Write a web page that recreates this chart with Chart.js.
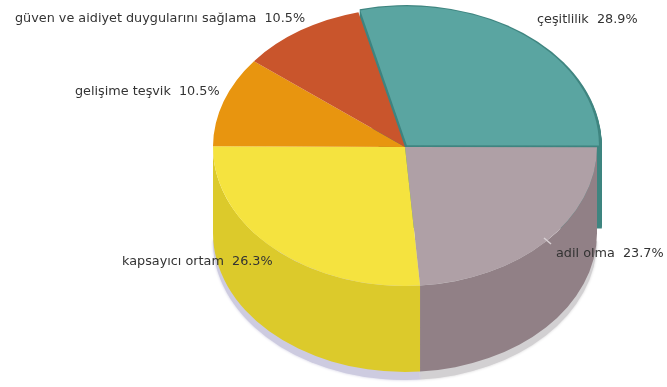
<!DOCTYPE html>
<html>
<head>
<meta charset="utf-8">
<style>
    html, body { margin: 0; padding: 0; background: #fff; }
    #chart { display: block; }
</style>
<script src="https://cdn.jsdelivr.net/npm/chart.js@4"></script>
</head>
<body>
<canvas id="chart" width="667" height="387"></canvas>
<script>
const categories = ['çeşitlilik', 'adil olma', 'kapsayıcı ortam', 'gelişime teşvik', 'güven ve aidiyet duygularını sağlama'];
const percentages = [28.9, 23.7, 26.3, 10.5, 10.5];

const topColors = ['#5aa5a1', '#afa0a6', '#f5e33f', '#e8950f', '#c9552c'];
const sideColors = ['#3f8580', '#918086', '#dcca2b', '#b87508', '#9c4020'];
const shadowColors = [null, '#d2d0d2', '#cdcbe0', null, null];
const sliceOffsets = [12, 0, 0, 0, 0];

// where each label starts, left edge and text middle
const labelSpots = [[537, 20], [556, 254], [122, 262], [75, 92], [15, 19]];

// pie sits flattened, its top face centred here
const pieCenter = { x: 405, y: 147 };
const tilt = 139 / 192;
const depth = 86;
const pulledDepth = 83;

function tiltContext(ctx, arc, drop) {
    ctx.translate(pieCenter.x, pieCenter.y + drop);
    ctx.scale(1, tilt);
    ctx.translate(-arc.x, -arc.y);
}

function sliceShape(ctx, arc) {
    const mid = (arc.startAngle + arc.endAngle) / 2;
    const off = (arc.options.offset || 0) / 4;
    const x = arc.x + Math.cos(mid) * off;
    const y = arc.y + Math.sin(mid) * off;
    ctx.beginPath();
    ctx.moveTo(x, y);
    ctx.arc(x, y, arc.outerRadius + off, arc.startAngle, arc.endAngle);
    ctx.closePath();
}

// outer wall of a slice, only the part facing the viewer
function wallShape(ctx, arc) {
    const from = Math.max(arc.startAngle, 0);
    const to = Math.min(arc.endAngle, Math.PI);
    if (to <= from) return false;
    const rx = arc.outerRadius;
    const ry = arc.outerRadius * tilt;
    ctx.beginPath();
    ctx.ellipse(pieCenter.x, pieCenter.y, rx, ry, 0, from, to);
    ctx.ellipse(pieCenter.x, pieCenter.y + depth, rx, ry, 0, to, from, true);
    ctx.closePath();
    return true;
}

const pie3d = {
    id: 'pie3d',
    beforeDatasetDraw(chart, args) {
        const ctx = chart.ctx;
        const arcs = args.meta.data;

        // soft shadow on the floor
        arcs.forEach((arc, i) => {
            if (!shadowColors[i]) return;
            ctx.save();
            tiltContext(ctx, arc, depth + 8);
            sliceShape(ctx, arc);
            ctx.fillStyle = shadowColors[i];
            ctx.shadowColor = shadowColors[i];
            ctx.shadowBlur = 3;
            ctx.fill();
            ctx.restore();
        });

        // a pulled out slice shows its cut faces, so sweep it down
        arcs.forEach((arc, i) => {
            if (!arc.options.offset) return;
            for (let d = pulledDepth; d > 0; d--) {
                ctx.save();
                tiltContext(ctx, arc, d);
                sliceShape(ctx, arc);
                ctx.fillStyle = sideColors[i];
                ctx.fill();
                ctx.restore();
            }
        });

        arcs.forEach((arc, i) => {
            if (arc.options.offset) return;
            if (wallShape(ctx, arc)) {
                ctx.fillStyle = sideColors[i];
                ctx.fill();
            }
        });

        // top face is left to the controller, under the same transform
        ctx.save();
        tiltContext(ctx, arcs[0], 0);
    },
    afterDatasetDraw(chart) {
        chart.ctx.restore();
    },
    afterDraw(chart) {
        const ctx = chart.ctx;

        // leader stub next to the adil olma label
        ctx.save();
        ctx.strokeStyle = '#d8d0d4';
        ctx.lineWidth = 1.5;
        ctx.beginPath();
        ctx.moveTo(544, 238);
        ctx.lineTo(551, 244);
        ctx.stroke();

        ctx.font = '12.8px "DejaVu Sans"';
        ctx.fillStyle = '#333';
        ctx.textBaseline = 'middle';
        categories.forEach((name, i) => {
            const text = name + '  ' + percentages[i].toFixed(1) + '%';
            ctx.fillText(text, labelSpots[i][0], labelSpots[i][1]);
        });
        ctx.restore();
    }
};

new Chart(document.getElementById('chart').getContext('2d'), {
    type: 'pie',
    data: {
        labels: categories,
        datasets: [{
            data: percentages,
            backgroundColor: topColors,
            offset: sliceOffsets,
            borderWidth: 0,
            clip: false
        }]
    },
    options: {
        responsive: false,
        animation: false,
        events: [],
        radius: 192,
        rotation: -14.04,
        plugins: {
            legend: { display: false },
            tooltip: { enabled: false }
        }
    },
    plugins: [pie3d]
});
</script>
</body>
</html>
